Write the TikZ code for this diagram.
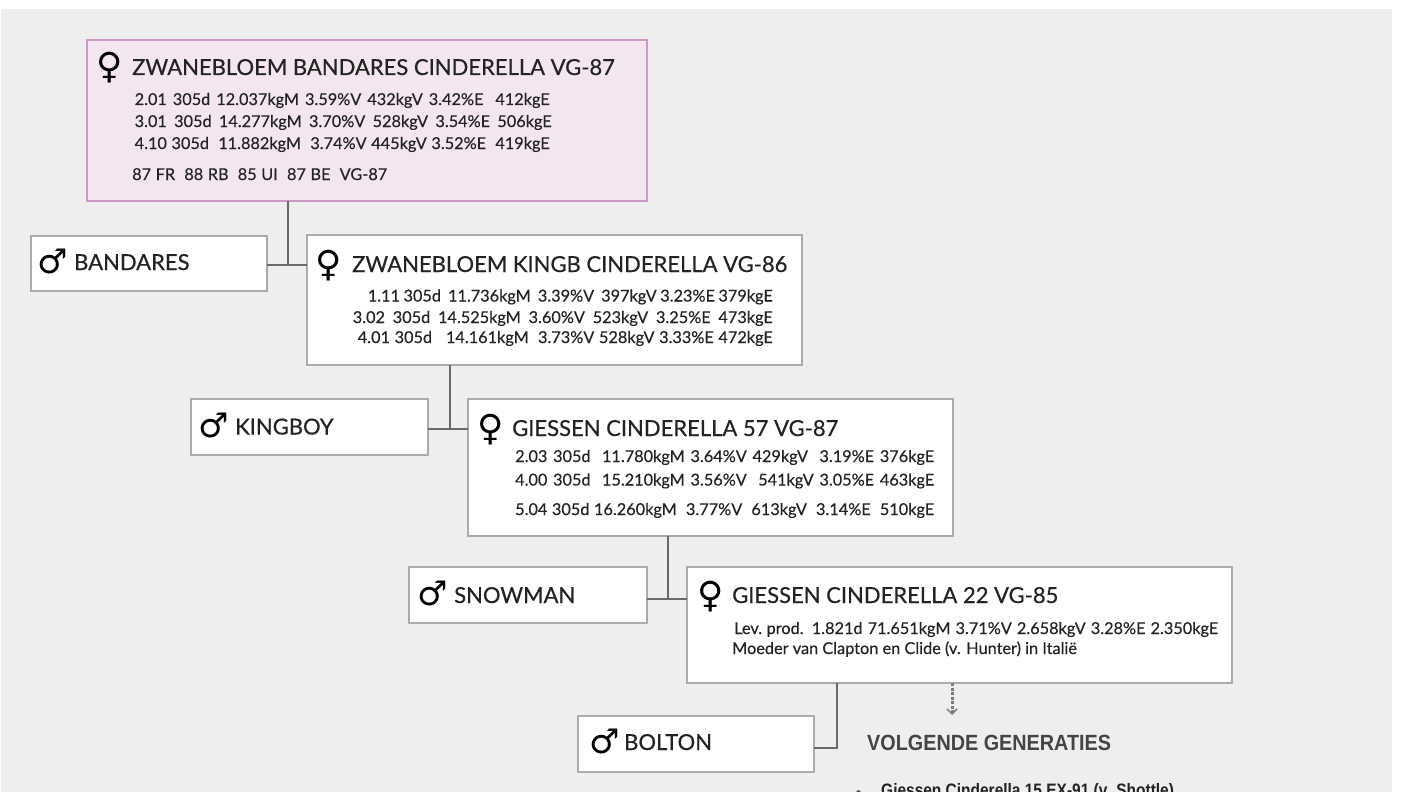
\documentclass[tikz,border=0pt]{standalone}
\usepackage{fontspec}
\setmainfont{Lato}
\newfontfamily\titlefont[FakeBold=0.5]{Lato}
\newfontfamily\datafont[FakeBold=0.3]{Lato}
\newfontfamily\symfont{DejaVu Sans Bold}
\newfontfamily\headfont[FakeStretch=0.9]{Liberation Sans Bold}
\newfontfamily\listfont[FakeStretch=0.86]{Liberation Sans Bold}
\usetikzlibrary{arrows.meta}
\definecolor{bg}{HTML}{EEEEEE}
\definecolor{pinkfill}{HTML}{F3E6EF}
\definecolor{pinkline}{HTML}{CC99C4}
\definecolor{boxline}{HTML}{ABABAB}
\definecolor{conn}{HTML}{6A6A6A}
\definecolor{txt}{HTML}{232323}
\definecolor{arrowgray}{HTML}{7E7E7E}
\tikzset{
  box/.style={draw=boxline, line width=2pt, fill=white, inner sep=0pt, outer sep=0pt, anchor=north west},
  pinkbox/.style={box, draw=pinkline, fill=pinkfill},
  title/.style={anchor=base west, inner sep=0pt, text=txt, font=\titlefont\fontsize{22}{25}\selectfont},
  data/.style={anchor=base west, inner sep=0pt, text=txt, font=\datafont\fontsize{16.3}{18}\selectfont},
  datar/.style={data, anchor=base east},
  fsym/.style={anchor=base west, inner sep=0pt, text=black, font=\symfont\fontsize{36}{38}\selectfont},
  msym/.style={anchor=base west, inner sep=0pt, text=black, font=\symfont\fontsize{34}{36}\selectfont},
  conn/.style={draw=conn, line width=2pt},
  nextarrow/.style={draw=arrowgray, line width=3pt, dash pattern=on 3pt off 1.5pt, -{Straight Barb[length=5pt,width=10pt,line width=1.5pt]}},
}
\newcommand{\dl}[2]{\makebox[#1pt][s]{#2}}
\begin{document}
\begin{tikzpicture}[x=1pt,y=-1pt]
\useasboundingbox (0,0) rectangle (1401,792);
\fill[white] (0,0) rectangle (1401,792);
\fill[bg] (1,9) rectangle (1392,792);

% boxes
\node[pinkbox, minimum width=560pt, minimum height=161pt] (b1) at (87,40) {};
\node[box, minimum width=236pt, minimum height=55pt] (m1) at (31,236) {};
\node[box, minimum width=495pt, minimum height=130pt] (b3) at (307,235) {};
\node[box, minimum width=237pt, minimum height=56pt] (m2) at (191,399) {};
\node[box, minimum width=485pt, minimum height=137pt] (b5) at (468,399) {};
\node[box, minimum width=238pt, minimum height=56pt] (m3) at (409,567) {};
\node[box, minimum width=545pt, minimum height=116pt] (b7) at (687,567) {};
\node[box, minimum width=236pt, minimum height=56pt] (m4) at (578,716) {};

% connectors
\coordinate (j1) at (288,265);
\coordinate (j2) at (450,429);
\coordinate (j3) at (668,599);
\coordinate (j4) at (837,748);
\coordinate (a1) at (952,715);
\draw[conn] (b1.south -| j1) -- (j1);
\draw[conn] (m1.east |- j1) -- (b3.west |- j1);
\draw[conn] (b3.south -| j2) -- (j2);
\draw[conn] (m2.east |- j2) -- (b5.west |- j2);
\draw[conn] (b5.south -| j3) -- (j3);
\draw[conn] (m3.east |- j3) -- (b7.west |- j3);
\draw[conn] (b7.south -| j4) -- (j4) -- (m4.east |- j4);
\draw[nextarrow] (b7.south -| a1) -- (a1);

% box 1
\node[fsym] (s1) at (96,79) {♀};
\node[title] (t1) at (132,75) {ZWANEBLOEM BANDARES CINDERELLA VG-87};
\node[data] (d1a) at (134.5,105) {\dl{415}{2.01 305d 12.037kgM 3.59\%V 432kgV 3.42\%E \ 412kgE}};
\node[data] (d1b) at (134.5,127) {\dl{417}{3.01 305d 14.277kgM 3.70\%V 528kgV 3.54\%E 506kgE}};
\node[data] (d1c) at (134.5,149) {\dl{415}{4.10 305d \ 11.882kgM \ 3.74\%V 445kgV 3.52\%E \ 419kgE}};
\node[data] (d1d) at (132,180) {\dl{255}{87 FR\ \ 88 RB\ \ 85 UI\ \ 87 BE\ \ VG-87}};

% BANDARES
\node[msym] (s2) at (37,273) {♂};
\node[title] (t2) at (74,270) {BANDARES};

% box 3
\node[fsym] (s3) at (315,276) {♀};
\node[title] (t3) at (352,272) {ZWANEBLOEM KINGB CINDERELLA VG-86};
\node[datar] (d3a) at (773,301.5) {\dl{405}{1.11 305d \ 11.736kgM \ 3.39\%V \ 397kgV 3.23\%E 379kgE}};
\node[datar] (d3b) at (773,323) {\dl{420}{3.02 305d 14.525kgM 3.60\%V 523kgV 3.25\%E 473kgE}};
\node[datar] (d3c) at (773,343) {\dl{415}{4.01 305d \ \ 14.161kgM \ 3.73\%V 528kgV 3.33\%E 472kgE}};

% KINGBOY
\node[msym] (s4) at (198,437) {♂};
\node[title] (t4) at (235,434.5) {KINGBOY};

% box 5
\node[fsym] (s5) at (477,440) {♀};
\node[title] (t5) at (512,436) {GIESSEN CINDERELLA 57 VG-87};
\node[data] (d5a) at (515,462) {\dl{419}{2.03 305d \ 11.780kgM 3.64\%V 429kgV \ 3.19\%E 376kgE}};
\node[data] (d5b) at (515,485.5) {\dl{419}{4.00 305d \ 15.210kgM 3.56\%V \ 541kgV 3.05\%E 463kgE}};
\node[data] (d5c) at (515,515) {\dl{419}{5.04 305d 16.260kgM \ 3.77\%V \ 613kgV \ 3.14\%E \ 510kgE}};

% SNOWMAN
\node[msym] (s6) at (417,605) {♂};
\node[title] (t6) at (454,603) {SNOWMAN};

% box 7
\node[fsym] (s7) at (697,607) {♀};
\node[title] (t7) at (732,603) {GIESSEN CINDERELLA 22 VG-85};
\node[data] (d7a) at (734,634) {\dl{484}{Lev.\hspace{4.5pt}prod. 1.821d 71.651kgM 3.71\%V 2.658kgV 3.28\%E 2.350kgE}};
\node[data] (d7b) at (732,654) {Moeder van Clapton en Clide (v. Hunter) in Italië};

% BOLTON
\node[msym] (s8) at (589,753) {♂};
\node[title] (t8) at (624,750) {BOLTON};

% next generations
\node[anchor=base west, inner sep=0pt, text=txt!85!white, font=\headfont\fontsize{22}{25}\selectfont] (h1) at (867,750.5) {VOLGENDE GENERATIES};
\node[anchor=base west, inner sep=0pt, text=txt!80!white, font=\fontsize{12}{14}\selectfont] (bul) at (855,796) {•};
\node[anchor=base west, inner sep=0pt, text=txt, font=\listfont\fontsize{18}{20}\selectfont] (n1) at (881,796) {Giessen Cinderella 15 EX-91 (v. Shottle)};
\end{tikzpicture}
\end{document}
